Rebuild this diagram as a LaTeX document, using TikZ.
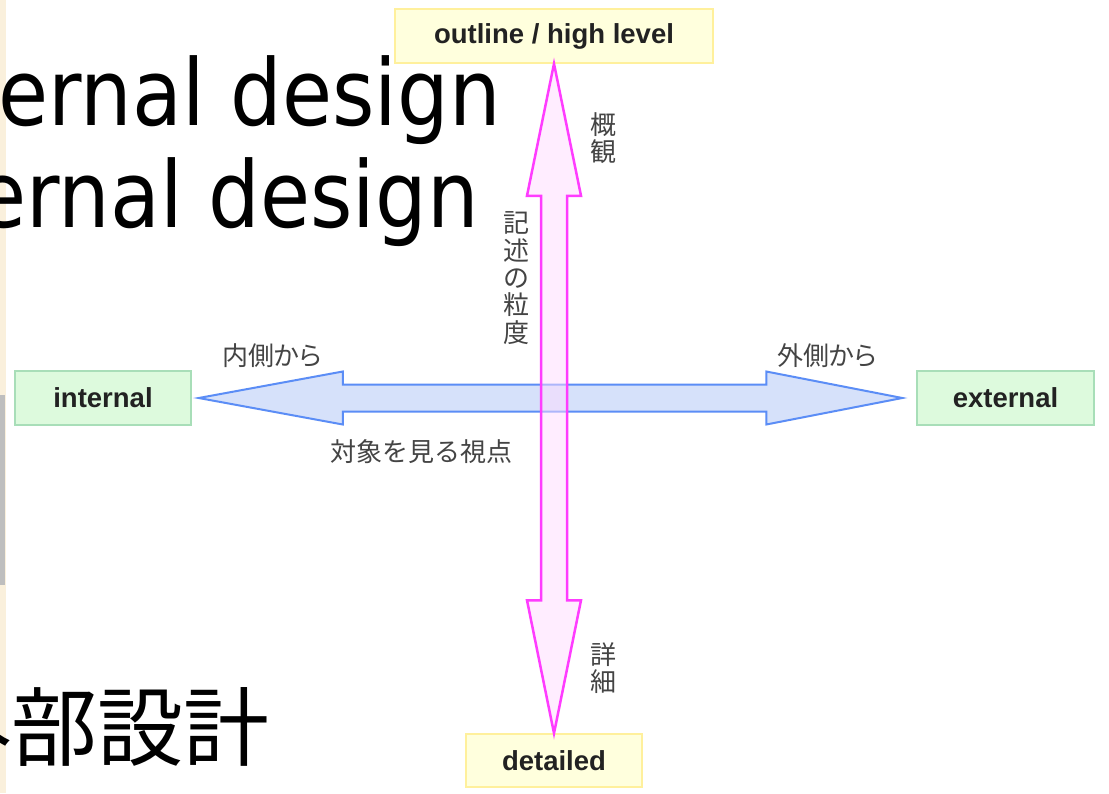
\documentclass[tikz,border=0pt]{standalone}
\usepackage{fontspec}
\setmainfont{Liberation Sans}
\newfontfamily\jp{Noto Sans CJK JP}
\newfontfamily\jpp[RawFeature=+palt]{Noto Sans CJK JP}
\newfontfamily\slidefont[FakeStretch=0.885]{DejaVu Sans}
\usetikzlibrary{calc}
\definecolor{yfill}{HTML}{FFFFDD}
\definecolor{ydraw}{HTML}{FFF09C}
\definecolor{gfill}{HTML}{DDFADD}
\definecolor{gdraw}{HTML}{A8DEB8}
\definecolor{bfill}{HTML}{D6E1FA}
\definecolor{bdraw}{HTML}{5B8DF6}
\definecolor{mdraw}{HTML}{FF3CFF}
\definecolor{mfill}{HTML}{FFDDFF}
\definecolor{lab}{HTML}{444444}
\definecolor{boxtext}{HTML}{222222}
\definecolor{beige}{HTML}{FAF0DC}
\definecolor{barg}{HTML}{BEBEBE}
\tikzset{
  boxbase/.style={draw, line width=1.5pt, inner sep=0pt, minimum height=54pt,
    text=boxtext, font=\bfseries\fontsize{27.5}{30}\selectfont},
  ybox/.style={boxbase, fill=yfill, draw=ydraw},
  gbox/.style={boxbase, fill=gfill, draw=gdraw},
  jl/.style={text=lab, inner sep=0pt, font=\jp\fontsize{26}{27.4}\selectfont},
  bigtxt/.style={inner sep=0pt, text=black, font=\slidefont\fontsize{92}{92}\selectfont},
  barrow/.style={draw=bdraw, fill=bfill, line width=2pt, line join=miter},
  marrow/.style={draw=mdraw, fill=mfill, fill opacity=0.5, draw opacity=1, line width=2.5pt, line join=miter}
}
\begin{document}
\begin{tikzpicture}[x=1pt,y=-1pt]
\useasboundingbox (0,0) rectangle (1109,793);
\fill[white] (0,0) rectangle (1109,793);
\fill[beige] (0,0) rectangle (6,793);
\fill[barg] (0,395) rectangle (5,585);

\begin{scope}
\clip (0,0) rectangle (1109,793);
\node[bigtxt, anchor=base east] (t1) at (501,125) {ernal design};
\node[bigtxt, anchor=base east] (t2) at (479,227) {ernal design};
\node[inner sep=0pt, anchor=base west, font=\jp\fontsize{86}{86}\selectfont] (t3) at (-75,759) {外部設計};
\end{scope}

\node[ybox, minimum width=318pt] (top) at (554,36) {outline / high level};
\node[gbox, minimum width=176pt] (int) at (103,398) {internal};
\node[gbox, minimum width=177pt] (ext) at (1005.5,398) {external};
\node[ybox, minimum width=176pt, minimum height=53pt] (det) at (554,760.5) {detailed};

\coordinate (L) at ($(int.east)+(7,0)$);
\coordinate (R) at ($(ext.west)+(-14,0)$);
\draw[barrow] (L) -- ++(144,-26.5) -- ++(0,13) -- ($(R)+(-136,-13.5)$) -- ++(0,-13) -- (R)
  -- ++(-136,26.5) -- ++(0,-13) -- ($(L)+(144,13.5)$) -- ++(0,13) -- cycle;

\coordinate (T) at (top.south);
\coordinate (B) at (det.north);
\draw[marrow] (T) -- ++(-27,132) -- ++(14,0) -- ($(B)+(-13,-133)$) -- ++(-14,0) -- (B)
  -- ++(27,-133) -- ++(-14,0) -- ($(T)+(13,132)$) -- ++(14,0) -- cycle;

\node[jl] (lin) at (272,356) {\jpp 内側から};
\node[jl] (lout) at (827,356) {\jpp 外側から};
\node[jl] (lview) at (421,452) {対象を見る視点};
\node[jl, align=center] (lgr) at (516,278) {記\\述\\の\\粒\\度};
\node[jl, align=center] (lhi) at (603,138) {概\\観};
\node[jl, align=center] (llo) at (603,668) {詳\\細};
\end{tikzpicture}
\end{document}
